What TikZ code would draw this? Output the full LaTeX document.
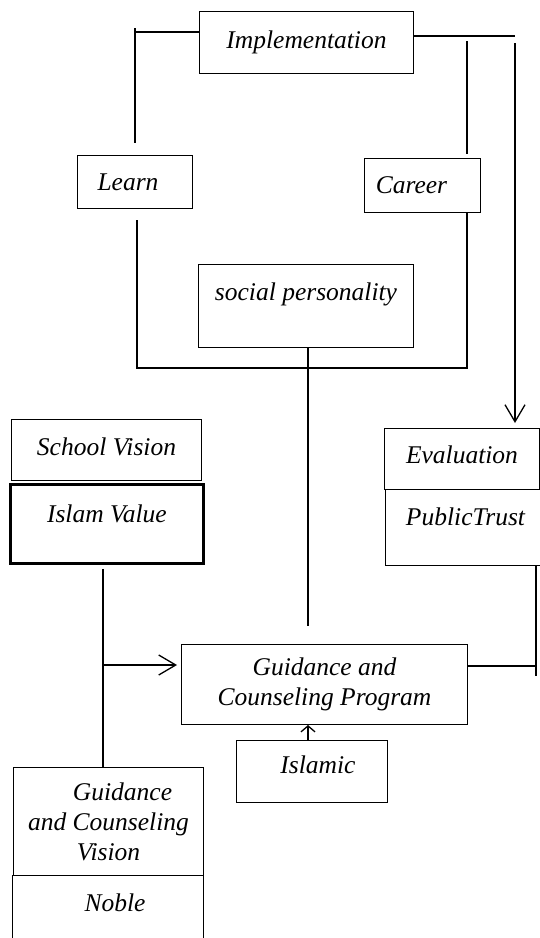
\documentclass[tikz,border=0pt]{standalone}
\usepackage{fontspec}
\setmainfont{Liberation Serif}
\usetikzlibrary{arrows.meta}
\newcommand{\lift}[2]{\raisebox{#1}[\height][\depth]{#2}}

\tikzset{
  box/.style={draw, line width=1pt, anchor=north west, inner sep=0pt, align=center,
    font=\fontsize{25.5}{30}\selectfont\itshape},
  link/.style={line width=1.3pt},
  barb/.style={-{Straight Barb[length=17pt,width=20pt]}},
}

\begin{document}
\begin{tikzpicture}[x=1pt,y=-1pt]
    %% Page
    \useasboundingbox (0,0) rectangle (540,938);

    %% Boxes
    \node[box, minimum width=214pt, minimum height=62pt] (impl) at (199,11) {Implementation};
    \node[box, minimum width=115pt, minimum height=53pt] (learn) at (77,155) {\hspace*{-14pt}Learn};
    \node[box, minimum width=116pt, minimum height=54pt] (career) at (364,158) {\hspace*{-22pt}Career};
    \node[box, minimum width=215pt, minimum height=83pt] (social) at (198,264) {\lift{12pt}{social personality}};
    \node[box, minimum width=190pt, minimum height=61pt] (school) at (11,419) {\lift{3pt}{School Vision}};
    \node[box, line width=2.8pt, minimum width=193pt, minimum height=79pt] (islam) at (9,483) {\lift{10pt}{Islam Value}};
    \node[box, minimum width=155pt, minimum height=61pt] (eval) at (384,428) {\lift{4pt}{Evaluation}};
    \node[box, minimum width=160pt, minimum height=76pt] (trust) at (385,489) {\lift{11pt}{PublicTrust}};
    \node[box, minimum width=286pt, minimum height=80pt] (program) at (181,644) {Guidance and\\Counseling Program};
    \node[box, minimum width=151pt, minimum height=62pt] (islamic) at (236,740) {\lift{7pt}{\hspace*{12pt}Islamic}};
    \node[box, minimum width=190pt, minimum height=108pt] (gcv) at (13,767) {\hspace*{28pt}Guidance\\and Counseling\\Vision};
    \node[box, minimum width=191pt, minimum height=70pt] (noble) at (12,875) {\lift{8pt}{\hspace*{14pt}Noble}};

    %% Top frame
    \coordinate (tick) at (135,28);
    \coordinate (learnup) at (135,143);
    \coordinate (corner) at (515,36);
    \coordinate (careerup) at (467,41);
    \draw[link] ([yshift=-21pt]impl.north west) -- ([yshift=-21pt]impl.north west -| tick);
    \draw[link] (tick) -- (learnup);
    \draw[link] ([yshift=-25pt]impl.north east) -- (corner);
    \draw[link] (careerup) -- ([yshift=4pt]career.north -| careerup);
    \draw[link, barb] ([yshift=-7pt]corner) -- ([yshift=5pt]eval.north -| corner);

    %% Middle frame
    \coordinate (learndown) at (137,220);
    \coordinate (base) at (467,368);
    \coordinate (spine) at (308,626);
    \draw[link] (learndown) |- (base) -- (career.south -| base);
    \draw[link] (social.south -| spine) -- (spine);

    %% Left side
    \coordinate (split) at (103,665);
    \draw[link] ([yshift=-4pt]islam.south -| split) -- (gcv.north -| split);
    \draw[link, barb] (split) -- ([xshift=-4pt]program.west |- split);

    %% Right side
    \coordinate (rdrop) at (536,676);
    \draw[link] (trust.south -| rdrop) -- (rdrop);
    \draw[link] ([yshift=-22pt]program.north east) -- ([yshift=-22pt]program.north east -| rdrop);

    %% Islamic
    \draw[link, -{Straight Barb[length=6pt,width=14pt]}] (islamic.north -| spine) -- (program.south -| spine);
\end{tikzpicture}
\end{document}
